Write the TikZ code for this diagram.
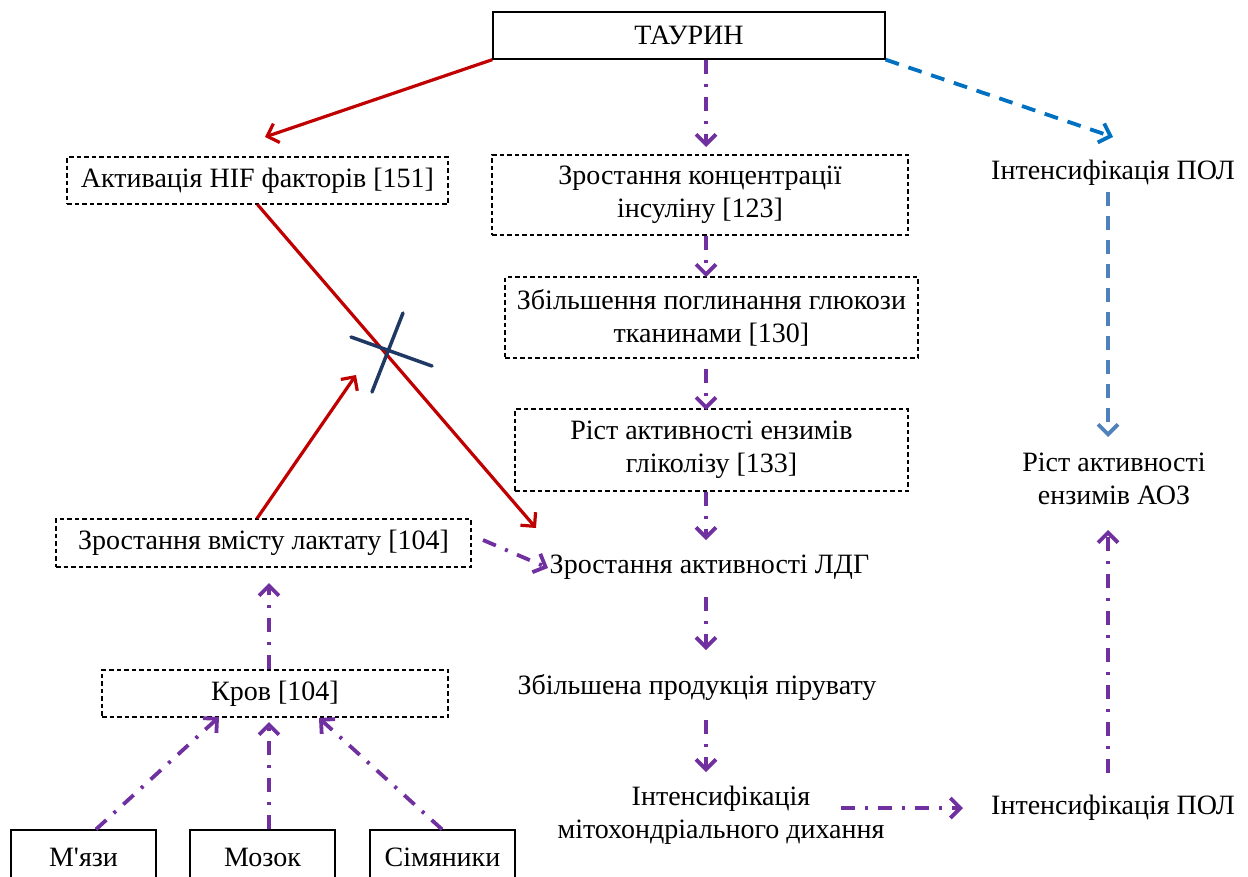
\documentclass[tikz,border=0pt]{standalone}
\usepackage{fontspec}
\setmainfont{Liberation Serif}[Ligatures=TeXOff]
\usetikzlibrary{arrows.meta}
\definecolor{redA}{HTML}{C00000}
\definecolor{purp}{HTML}{7030A0}
\definecolor{blueA}{HTML}{0070C0}
\definecolor{blueB}{HTML}{4F81BD}
\definecolor{navy}{HTML}{1F3864}
\tikzset{
  solidbox/.style={draw=black, line width=1.3pt, inner sep=0pt, align=center},
  dbox/.style={draw=black, line width=1.1pt, dash pattern=on 4.5pt off 3pt, inner sep=0pt, align=center},
  plain/.style={inner sep=0pt, align=center},
  tip/.style={-{Straight Barb[length=10pt,width=20pt]}},
  redarr/.style={tip, draw=redA, line width=3.2pt},
  purarr/.style={tip, draw=purp, line width=3.8pt, dash pattern=on 14pt off 10pt on 3pt off 10pt},
  bluearr/.style={tip, draw=blueA, line width=3.8pt, dash pattern=on 14pt off 10pt},
  blueBarr/.style={tip, draw=blueB, line width=3.8pt, dash pattern=on 14pt off 10pt},
  xline/.style={draw=navy, line width=3.5pt, line cap=round},
}
\begin{document}
\begin{tikzpicture}[x=1pt,y=-1pt, font=\fontsize{28}{33}\selectfont]
\useasboundingbox (0,0) rectangle (1248,876);

% nodes
\node[solidbox, minimum width=392, minimum height=47] (taurin) at (689,35.5) {ТАУРИН};
\node[dbox, minimum width=381, minimum height=47] (hif) at (257.5,180.5) {Активація HIF факторів [151]};
\node[dbox, minimum width=416, minimum height=80] (insulin) at (700,195) {Зростання концентрації\\інсуліну [123]};
\node[dbox, minimum width=413, minimum height=81] (glucose) at (711.5,317.5) {Збільшення поглинання глюкози\\тканинами [130]};
\node[dbox, minimum width=393, minimum height=82] (glyco) at (711.5,450) {Ріст активності ензимів\\гліколізу [133]};
\node[plain] (ldg) at (709.5,567) {Зростання активності ЛДГ};
\node[plain] (pyr) at (697,687) {Збільшена продукція пірувату};
\node[plain] (mito) at (721,815) {Інтенсифікація\\мітохондріального дихання};
\node[plain] (pol1) at (1113,173) {Інтенсифікація ПОЛ};
\node[plain] (aoz) at (1114,479) {Ріст активності\\ензимів АОЗ};
\node[plain] (pol2) at (1113,808) {Інтенсифікація ПОЛ};
\node[dbox, minimum width=415, minimum height=48] (lact) at (263.5,543) {Зростання вмісту лактату [104]};
\node[dbox, minimum width=346, minimum height=47] (krov) at (275,693.5) {Кров [104]};
\node[solidbox, minimum width=145, minimum height=54] (muscle) at (83.5,857) {М'язи};
\node[solidbox, minimum width=145, minimum height=54] (brain) at (262.5,857) {Мозок};
\node[solidbox, minimum width=145, minimum height=54] (testes) at (442.5,857) {Сімяники};

% connector ends
\coordinate (hifTip) at (265,137);
\coordinate (ldgTip) at (536,528);
\coordinate (xTip) at (356,375);
\coordinate (pol1Tip) at (1113,137);
\coordinate (insIn) at (706,147);
\coordinate (gluIn) at (706,277);
\coordinate (glyIn) at (706,410);
\coordinate (ldgIn) at (706,540);
\coordinate (ldgOut) at (706,597);
\coordinate (pyrIn) at (706,650);
\coordinate (pyrOut) at (706,720);
\coordinate (mitoIn) at (706,772);
\coordinate (mitoOut) at (841,808);
\coordinate (pol2In) at (963,808);
\coordinate (pol2Out) at (1108,773);
\coordinate (aozIn) at (1108,530);
\coordinate (pol1Out) at (1108,192);
\coordinate (aozTop) at (1108,437);
\coordinate (lactOut) at (483,540);
\coordinate (ldgSide) at (548,568);
\coordinate (lactIn) at (269,583);
\coordinate (krovA) at (219,717);
\coordinate (krovB) at (269,722);
\coordinate (krovC) at (319,718);

% red arrows
\draw[redarr] (taurin.south west) -- (hifTip);
\draw[redarr] (hif.south) -- (ldgTip);
\draw[redarr] (lact.north -| 257,0) -- (xTip);

% X mark
\coordinate (xa1) at (351,337); \coordinate (xa2) at (432,366);
\coordinate (xb1) at (403,313); \coordinate (xb2) at (372,392);
\draw[xline] (xa1) -- (xa2);
\draw[xline] (xb1) -- (xb2);

% purple column
\draw[purarr] (taurin.south -| insIn) -- (insIn);
\draw[purarr] (insulin.south -| gluIn) -- (gluIn);
\draw[purarr, shorten <=10pt] (glucose.south -| glyIn) -- (glyIn);
\draw[purarr] (glyco.south -| ldgIn) -- (ldgIn);
\draw[purarr] (ldgOut) -- (pyrIn);
\draw[purarr] (pyrOut) -- (mitoIn);
\draw[purarr] (mitoOut) -- (pol2In);
\draw[purarr] (pol2Out) -- (aozIn);
\draw[purarr] (lactOut) -- (ldgSide);

% blood
\draw[purarr] (krov.north -| lactIn) -- (lactIn);
\draw[purarr] (muscle.north -| 96,0) -- (krovA);
\draw[purarr] (brain.north -| krovB) -- (krovB);
\draw[purarr] (testes.north -| 442,0) -- (krovC);

% blue
\draw[bluearr] (taurin.south east) -- (pol1Tip);
\draw[blueBarr] (pol1Out) -- (aozTop);
\end{tikzpicture}
\end{document}
